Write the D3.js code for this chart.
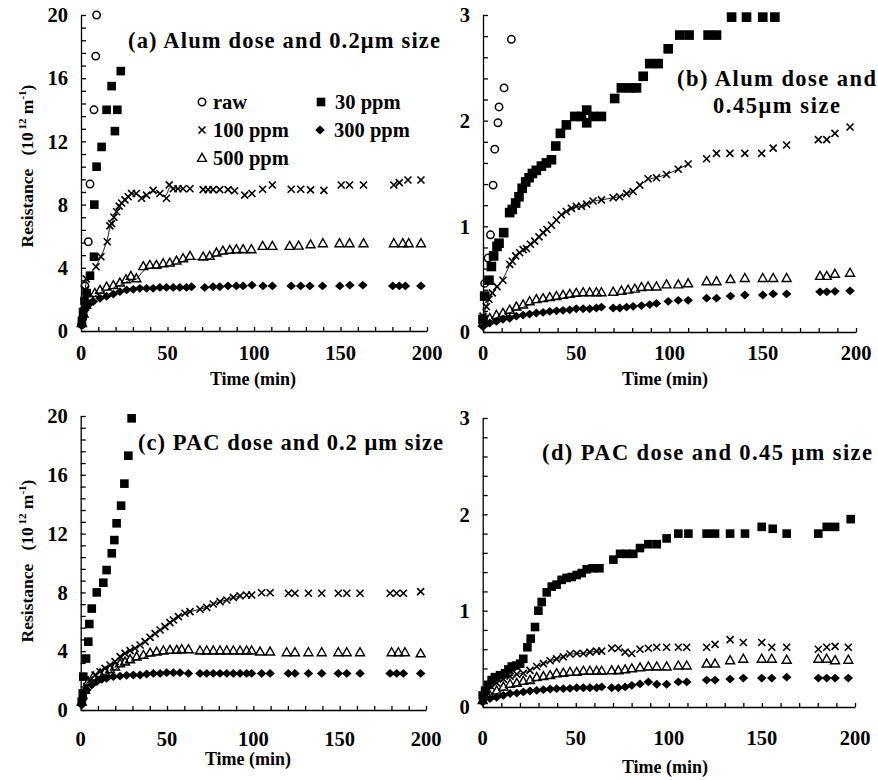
<!DOCTYPE html>
<html>
<head>
<meta charset="utf-8">
<script src="https://cdn.jsdelivr.net/npm/d3@7"></script>
<style>
  html, body { margin: 0; padding: 0; background: #fff; }
  svg { display: block; }
  text { font-family: "Liberation Serif", "Times New Roman", serif; font-weight: bold; fill: #000; }
</style>
</head>
<body>
<svg id="chart" width="878" height="780"></svg>
<script>
// ---------------- DATA ([time (min), resistance]) ----------------
const xTicks = [0, 50, 100, 150, 200];
const yTicks02 = [0, 4, 8, 12, 16, 20];
const yTicks045 = [0, 1, 2, 3];
const seriesNames = ["raw", "30 ppm", "100 ppm", "300 ppm", "500 ppm"];

// (a) Alum dose, 0.2 um
const a_raw = [[0.5,0.4],[1,0.8],[1.5,1.3],[2.3,2.85],[4.2,5.65],[5.2,9.3],[7.5,14.0],[8.5,17.4],[9,20.0]];
const a_30 = [[0.5,0.6],[1.2,1.2],[2,1.9],[3.3,2.4],[5.2,3.5],[7.5,4.7],[7.7,8.0],[9,10.4],[11.9,11.65],[14.8,14.0],[17.7,15.5],[19.6,12.65],[21,14.0],[23,16.45]];
const a_100 = [[0.5,0.5],[1.5,1.2],[2.3,2.6],[3,3.3],[8.7,4.07],[11.5,4.7],[15.2,5.65],[16.7,6.65],[17.7,6.8],[19,7.2],[20.6,7.55],[22.1,7.9],[23.5,8.1],[25.4,8.3],[27.3,8.5],[29.2,8.7],[32,8.7],[35,8.4],[37.9,8.6],[41.7,8.9],[45.6,8.7],[49.4,8.4],[51,9.25],[53.3,9.0],[56,9.0],[59,9.0],[63,9.0],[70.6,8.95],[73.5,8.95],[76.3,8.95],[80.2,8.95],[85,8.95],[88.8,8.88],[94.6,8.6],[98.8,8.7],[105,8.97],[110.6,9.24],[121.5,8.97],[127,8.97],[132.7,8.93],[140.4,8.9],[150.4,9.24],[155.2,9.24],[163.3,9.24],[180.8,9.24],[184,9.39],[189,9.56],[196.5,9.56]];
const a_300 = [[0.3,0.4],[1.3,0.9],[2.3,1.33],[4.2,1.65],[7.1,1.86],[11,2.07],[14.8,2.2],[18.7,2.34],[22.5,2.49],[26.4,2.6],[30.2,2.64],[34,2.7],[37.9,2.7],[41.7,2.7],[45.6,2.76],[49.4,2.76],[53.3,2.76],[57.1,2.76],[61,2.76],[63.9,2.8],[71.5,2.76],[76.3,2.8],[80.2,2.8],[85,2.85],[89.8,2.85],[93.7,2.85],[98.8,2.9],[105.2,2.85],[110.6,2.85],[121.5,2.85],[127,2.85],[132.3,2.85],[139.6,2.85],[149.6,2.85],[155.4,2.9],[162.9,2.9],[180.2,2.85],[184,2.85],[187.5,2.85],[196.5,2.85]];
const a_500 = [[0.5,0.5],[1.5,1.1],[3,1.65],[5,2.17],[8,2.4],[11,2.6],[14.8,2.8],[18.7,2.9],[22.5,3.06],[26,3.27],[28.8,3.48],[32,3.33],[36,4.1],[39.8,4.18],[43.6,4.18],[47.5,4.28],[51.3,4.32],[55.2,4.45],[59,4.6],[63,4.75],[70.6,4.7],[74.4,4.75],[78.3,4.96],[82,5.08],[86,5.13],[89.8,5.17],[93.7,5.17],[98.5,5.17],[105,5.38],[110.6,5.38],[120.6,5.38],[125.8,5.4],[132.7,5.48],[139.8,5.55],[149.4,5.55],[155.2,5.55],[163.3,5.55],[180.8,5.55],[186,5.55],[189.4,5.55],[196.5,5.55]];

// (b) Alum dose, 0.45 um
const b_raw = [[0.9,0.46],[2.7,0.70],[4,0.92],[5.4,1.39],[6.3,1.73],[8,1.98],[8.6,2.13],[11.3,2.31],[15.2,2.77]];
const b_30 = [[0,0.12],[0.9,0.34],[3.2,0.49],[4.5,0.62],[5.7,0.72],[7.5,0.81],[8.6,0.84],[11.1,0.94],[14.3,1.13],[15.7,1.16],[17.5,1.22],[19.3,1.28],[21,1.36],[22.9,1.42],[24.7,1.46],[26.5,1.5],[28.6,1.53],[31.3,1.57],[34,1.6],[36.7,1.63],[39,1.76],[41.5,1.88],[44.7,1.96],[49.2,2.04],[52.8,2.04],[55.6,2.1],[55.6,1.98],[59,2.04],[63.5,2.04],[70.6,2.21],[74.2,2.31],[78.7,2.31],[82.3,2.31],[85.9,2.42],[89.4,2.54],[93.9,2.54],[99.3,2.68],[105.5,2.81],[110.5,2.81],[120.7,2.81],[125.2,2.81],[133.3,2.98],[141.3,2.98],[150,2.98],[156.5,2.98]];
const b_100 = [[0,0.15],[1.8,0.24],[3.2,0.31],[5,0.37],[7.5,0.43],[10.7,0.49],[14.3,0.64],[15.7,0.67],[17.5,0.72],[19.7,0.75],[21.5,0.78],[23.3,0.79],[25.4,0.83],[27.7,0.86],[30,0.9],[32.2,0.94],[34.3,0.97],[36.7,1.01],[39.4,1.06],[42,1.11],[44.7,1.14],[47.4,1.17],[50,1.19],[52.8,1.19],[55.6,1.21],[59,1.24],[63.5,1.25],[69.8,1.27],[73.3,1.28],[77,1.31],[80.5,1.33],[84.1,1.39],[88.5,1.45],[93,1.46],[98.4,1.49],[104.7,1.54],[110,1.59],[119.9,1.64],[125.2,1.69],[132.4,1.69],[140.4,1.69],[149.4,1.69],[155.6,1.74],[162.8,1.77],[179.8,1.82],[184.3,1.82],[188.7,1.88],[196.8,1.94]];
const b_300 = [[0,0.05],[3.6,0.085],[7.2,0.10],[10.7,0.12],[14.3,0.13],[17.9,0.15],[21.5,0.16],[25,0.17],[28.6,0.18],[32.2,0.185],[35.8,0.195],[39.4,0.2],[42.9,0.205],[46.5,0.21],[50,0.22],[53.7,0.22],[57.2,0.22],[60.8,0.227],[63.5,0.236],[69.8,0.227],[73.3,0.227],[77,0.236],[80.5,0.243],[85,0.25],[89.4,0.26],[93,0.27],[99.3,0.29],[104.7,0.3],[110,0.3],[119.9,0.32],[125.2,0.32],[132.7,0.34],[140.4,0.35],[150,0.35],[155.6,0.36],[162.8,0.36],[180.7,0.38],[184.3,0.38],[188.7,0.385],[196.8,0.39]];
const b_500 = [[0,0.085],[3.6,0.13],[7.2,0.16],[10.7,0.18],[14.3,0.21],[17.9,0.24],[21.5,0.26],[25,0.29],[28.6,0.31],[32.2,0.32],[35.8,0.33],[39.4,0.34],[42.9,0.35],[46.5,0.36],[50,0.37],[53.7,0.375],[57.2,0.375],[60.8,0.375],[63.5,0.375],[69.8,0.38],[74.2,0.39],[77.8,0.40],[81.4,0.41],[85,0.425],[88.5,0.43],[93,0.43],[98.4,0.45],[104.7,0.45],[110,0.46],[119.9,0.48],[125.2,0.48],[132.7,0.5],[140.4,0.51],[150,0.51],[155.6,0.51],[162.8,0.51],[180.7,0.53],[184.3,0.53],[188.7,0.55],[196.8,0.56]];

// (c) PAC dose, 0.2 um
const c_30 = [[0.6,0.57],[1.2,1.13],[1.5,2.27],[3.1,3.5],[4.4,4.65],[5,5.85],[6.4,6.9],[9.3,8.0],[13.1,8.66],[15,9.52],[18,10.66],[19.5,11.56],[20.8,12.7],[23.4,13.9],[25.3,15.4],[27.6,17.3],[29.5,19.84]];
const c_100 = [[1.5,0.9],[3.5,1.6],[5.4,2.04],[8.3,2.38],[11.2,2.6],[14.1,2.83],[17,3.06],[19.9,3.29],[22.8,3.63],[25.7,3.85],[28.6,4.04],[31.5,4.2],[34.4,4.42],[37.3,4.65],[40.2,4.94],[43.1,5.2],[46,5.44],[48.8,5.67],[51.7,5.94],[53.7,6.12],[56.6,6.35],[60.4,6.58],[63.3,6.69],[69.1,6.85],[73,6.98],[76.8,7.21],[80.7,7.37],[84.6,7.48],[88.4,7.66],[92.3,7.76],[96.1,7.82],[99,7.82],[104.8,7.98],[109.7,7.98],[120.3,7.94],[124.1,7.94],[131.9,7.94],[139.6,7.94],[149.2,7.94],[154.1,7.94],[161.8,7.94],[179.2,7.94],[183,7.94],[186.9,7.94],[196.9,8.05]];
const c_300 = [[0.6,0.34],[1.5,0.8],[3.5,1.36],[6.4,1.7],[9.3,1.93],[12.2,2.09],[15,2.15],[18.9,2.27],[22.8,2.31],[26.6,2.36],[30.5,2.38],[34.4,2.38],[38.2,2.45],[42.1,2.49],[46,2.49],[49.8,2.54],[53.7,2.54],[57.5,2.54],[62.4,2.49],[69.1,2.49],[73,2.49],[76.8,2.49],[80.7,2.49],[84.6,2.49],[88.4,2.49],[92.3,2.49],[96.1,2.49],[99,2.49],[104.8,2.49],[109.7,2.49],[120.3,2.49],[124.1,2.49],[131.9,2.49],[139.6,2.49],[149.2,2.49],[154.1,2.49],[161.8,2.49],[179.2,2.49],[183,2.49],[186.9,2.49],[196.9,2.49]];
const c_500 = [[0.6,0.57],[2.5,1.36],[4.4,1.93],[7.3,2.27],[11.2,2.49],[14.1,2.6],[17,2.77],[19.9,2.95],[22.8,3.17],[25.7,3.29],[28.6,3.45],[32.4,3.63],[36.3,3.74],[40.2,3.9],[44,3.97],[47.9,4.04],[51.7,4.08],[55.6,4.08],[58.5,4.13],[62.4,4.13],[69.1,4.04],[73,4.04],[76.8,4.04],[80.7,4.04],[84.6,4.04],[88.4,4.04],[92.3,4.04],[96.1,4.04],[99,4.04],[103.9,3.97],[109.7,3.97],[119.3,3.92],[124.1,3.92],[131.9,3.92],[139.6,3.92],[149.2,3.92],[154.1,3.92],[161.8,3.92],[180.1,3.92],[184,3.92],[187.8,3.92],[196.9,3.85]];

// (d) PAC dose, 0.45 um
const d_30 = [[0,0.12],[1.3,0.17],[3,0.23],[4.8,0.28],[6.6,0.31],[9.3,0.33],[12,0.35],[13.8,0.39],[15.6,0.42],[17.9,0.43],[20.1,0.45],[21.8,0.5],[24,0.62],[25.8,0.71],[28.1,0.83],[29.9,1.0],[31.7,1.09],[34.4,1.19],[37.1,1.25],[39.7,1.27],[42.4,1.32],[45.1,1.34],[47.8,1.35],[50.5,1.37],[53.2,1.39],[55.9,1.43],[59.1,1.44],[62.7,1.44],[70.2,1.53],[73.8,1.59],[77.4,1.59],[80.9,1.59],[84.5,1.65],[89,1.69],[93.5,1.69],[98.8,1.75],[105.1,1.8],[110.5,1.8],[120.3,1.8],[124.8,1.8],[132.9,1.8],[140.9,1.8],[149.9,1.87],[155.8,1.85],[163.3,1.8],[180.3,1.8],[184.8,1.87],[189.3,1.87],[197.7,1.95]];
const d_100 = [[0,0.09],[2.1,0.16],[4.8,0.21],[7.5,0.25],[11.1,0.29],[14.7,0.32],[18.3,0.34],[21.8,0.35],[25.4,0.38],[29,0.42],[32.6,0.45],[36.2,0.48],[39.7,0.5],[43.3,0.52],[46.9,0.55],[50.5,0.555],[54.1,0.555],[57.6,0.57],[61.2,0.58],[63.9,0.58],[69.3,0.61],[72.9,0.61],[76.5,0.57],[80.1,0.555],[84.5,0.6],[89,0.61],[93.5,0.62],[98.8,0.62],[105.1,0.62],[109.6,0.62],[120.3,0.62],[124.8,0.65],[132.9,0.7],[140,0.67],[149.9,0.67],[155.3,0.62],[163.3,0.62],[180.3,0.6],[184.8,0.62],[189.3,0.63],[196.4,0.62]];
const d_300 = [[0,0.05],[3.9,0.087],[7.5,0.1],[11.1,0.12],[14.7,0.14],[18.3,0.145],[21.8,0.156],[25.4,0.166],[29,0.173],[32.6,0.18],[36.2,0.187],[39.7,0.19],[43.3,0.19],[46.9,0.194],[50.5,0.2],[54.1,0.2],[57.6,0.2],[61.2,0.2],[63.9,0.208],[69.3,0.2],[72.9,0.2],[76.5,0.208],[80.1,0.225],[84.5,0.24],[89,0.26],[93.5,0.236],[98.8,0.236],[105.1,0.26],[109.6,0.26],[120.3,0.28],[124.8,0.28],[132.9,0.29],[140,0.3],[149.9,0.3],[155.3,0.3],[163.3,0.31],[180.3,0.3],[184.8,0.3],[189.3,0.3],[196.4,0.3]];
const d_500 = [[0,0.07],[3.9,0.12],[7.5,0.17],[11.1,0.21],[14.7,0.24],[18.3,0.25],[21.8,0.27],[25.4,0.28],[29,0.31],[32.6,0.32],[36.2,0.33],[39.7,0.35],[43.3,0.355],[46.9,0.364],[50.5,0.364],[54.1,0.375],[57.6,0.375],[61.2,0.375],[63.9,0.375],[69.3,0.38],[72.9,0.38],[76.5,0.39],[80.1,0.4],[84.5,0.41],[89,0.42],[93.5,0.42],[98.8,0.42],[105.1,0.43],[109.6,0.43],[120.3,0.45],[124.8,0.45],[132.9,0.485],[140,0.5],[149.9,0.5],[155.3,0.5],[163.3,0.49],[180.3,0.5],[184.8,0.5],[189.3,0.485],[196.4,0.49]];

// time (min) up to which the thin fitted trace runs under the 100 / 500 ppm points
const fitEnd = { a: [60, 100], b: [110, 65], c: [96, 100], d: [65, 100] };

// ---------------- DRAWING ----------------
const svg = d3.select("#chart");
svg.append("rect").attr("width", 878).attr("height", 780).attr("fill", "#fff");

function makeMarkers(k) {
  return {
    raw:  g => g.append("circle").attr("r", 3.7).attr("fill", "none").attr("stroke", "#000").attr("stroke-width", 1.5),
    sq:   g => g.append("rect").attr("x", -4.3 * k).attr("y", -4.3 * k).attr("width", 8.6 * k).attr("height", 8.6 * k).attr("fill", "#000"),
    x:    g => g.append("path").attr("d", "M-3.5,-3.5L3.5,3.5M-3.5,3.5L3.5,-3.5").attr("stroke", "#000").attr("stroke-width", 1.6).attr("fill", "none"),
    dia:  g => g.append("path").attr("d", "M0,-4.4L4.8,0L0,4.4L-4.8,0Z").attr("fill", "#000"),
    tri:  g => g.append("path").attr("d", "M0,-4.6L4.5,3.4L-4.5,3.4Z").attr("fill", "none").attr("stroke", "#000").attr("stroke-width", 1.4)
  };
}
const markers = makeMarkers(1);

function panel(cfg) {
  const mk = makeMarkers(cfg.sqScale || 1);
  const x = d3.scaleLinear().domain([0, 200]).range([cfg.x0, cfg.x1]);
  const y = d3.scaleLinear().domain([0, cfg.ymax]).range([cfg.y0, cfg.y1]);
  const g = svg.append("g");

  const xMinor = d3.range(0, 201, 10);
  g.append("g").attr("transform", `translate(0,${cfg.y0})`)
    .call(d3.axisBottom(x).tickValues(xMinor).tickSizeInner(-4).tickSizeOuter(0).tickFormat(""))
    .call(s => s.selectAll("line,path").attr("stroke", "#000").attr("stroke-width", 1.3));
  g.selectAll(".xlab").data(xTicks).join("text")
    .attr("x", d => x(d)).attr("y", cfg.xLabY)
    .attr("text-anchor", "middle").attr("font-size", 20.5).text(d => d);

  const yMinor = d3.range(0, cfg.yMinorN + 1).map(i => i * cfg.ymax / cfg.yMinorN);
  g.append("g").attr("transform", `translate(${cfg.x0},0)`)
    .call(d3.axisLeft(y).tickValues(yMinor).tickSizeInner(-5).tickSizeOuter(0).tickFormat(""))
    .call(s => s.selectAll("line,path").attr("stroke", "#000").attr("stroke-width", 1.3));
  g.selectAll(".ylab").data(cfg.yTicks).join("text")
    .attr("x", cfg.x0 - 13).attr("y", d => y(d)).attr("dy", "0.35em")
    .attr("text-anchor", "end").attr("font-size", 20.5).text(d => d);

  // thin fitted traces
  const line = d3.line().x(p => x(p[0])).y(p => y(p[1])).curve(d3.curveBasis);
  cfg.fits.forEach(f => {
    g.append("path").datum(f.data.filter(p => p[0] <= f.end))
      .attr("d", line).attr("fill", "none").attr("stroke", "#000").attr("stroke-width", 0.9)
      .attr("transform", `translate(0,${f.dy})`);
  });

  cfg.series.forEach(s => {
    const sg = g.append("g");
    s.data.forEach(p => {
      const m = sg.append("g").attr("transform", `translate(${x(p[0])},${y(p[1])})`);
      mk[s.m](m);
    });
  });

  g.append("text").attr("x", cfg.xTitleX).attr("y", cfg.xTitleY)
    .attr("text-anchor", "middle").attr("font-size", 18).text("Time (min)");
}

function yTitle(cx, cy) {
  const t = svg.append("text")
    .attr("transform", `translate(${cx},${cy}) rotate(-90)`)
    .attr("text-anchor", "middle").attr("font-size", 17.5);
  t.append("tspan").text("Resistance\u00a0\u00a0\u00a0(10");
  t.append("tspan").attr("dy", -7).attr("font-size", 11).text("\u00a012");
  t.append("tspan").attr("dy", 7).text("\u00a0m");
  t.append("tspan").attr("dy", -7).attr("font-size", 11).text("-1");
  t.append("tspan").attr("dy", 7).text(")");
}

function title(txt, x, y, w, fs) {
  svg.append("text").attr("x", x).attr("y", y).attr("font-size", fs)
    .attr("textLength", w).attr("lengthAdjust", "spacing").text(txt);
}

panel({ x0: 81, x1: 427, y0: 331, y1: 15, ymax: 20, yMinorN: 25, yTicks: yTicks02, xLabY: 360, xTitleX: 253, xTitleY: 385,
  fits: [ {data: a_100, end: fitEnd.a[0], dy: 0}, {data: a_500, end: fitEnd.a[1], dy: 3} ],
  series: [ {m:"raw", data:a_raw}, {m:"sq", data:a_30}, {m:"x", data:a_100}, {m:"tri", data:a_500}, {m:"dia", data:a_300} ] });
panel({ x0: 483, x1: 856, y0: 332, y1: 15, ymax: 3, yMinorN: 15, yTicks: yTicks045, xLabY: 360, xTitleX: 665, xTitleY: 385, sqScale: 1.12,
  fits: [ {data: b_100, end: fitEnd.b[0], dy: 0}, {data: b_500, end: fitEnd.b[1], dy: 3} ],
  series: [ {m:"raw", data:b_raw}, {m:"sq", data:b_30}, {m:"x", data:b_100}, {m:"tri", data:b_500}, {m:"dia", data:b_300} ] });
panel({ x0: 80.7, x1: 426, y0: 710, y1: 416, ymax: 20, yMinorN: 25, yTicks: yTicks02, xLabY: 746, xTitleX: 248, xTitleY: 765,
  fits: [ {data: c_100, end: fitEnd.c[0], dy: 0}, {data: c_500, end: fitEnd.c[1], dy: 3} ],
  series: [ {m:"sq", data:c_30}, {m:"x", data:c_100}, {m:"tri", data:c_500}, {m:"dia", data:c_300} ] });
panel({ x0: 482.7, x1: 855, y0: 707, y1: 418, ymax: 3, yMinorN: 15, yTicks: yTicks045, xLabY: 745, xTitleX: 665, xTitleY: 773,
  fits: [ {data: d_100, end: fitEnd.d[0], dy: 0}, {data: d_500, end: fitEnd.d[1], dy: 3} ],
  series: [ {m:"sq", data:d_30}, {m:"x", data:d_100}, {m:"tri", data:d_500}, {m:"dia", data:d_300} ] });

yTitle(33, 166);
yTitle(33, 561);

title("(a) Alum dose and 0.2\u03bcm size", 128, 48, 312, 22.5);
title("(b) Alum dose and", 677, 86, 199, 22.5);
title("0.45\u03bcm size", 713, 113, 127, 22.5);
title("(c) PAC dose and 0.2 \u03bcm size", 138, 450, 305, 22.5);
title("(d) PAC dose and 0.45 \u03bcm size", 542, 460, 330, 22.5);

const legend = [
  { name: seriesNames[0], m: "raw", x: 202, y: 102 },
  { name: seriesNames[1], m: "sq",  x: 321, y: 102 },
  { name: seriesNames[2], m: "x",   x: 202, y: 130 },
  { name: seriesNames[3], m: "dia", x: 320, y: 130 },
  { name: seriesNames[4], m: "tri", x: 202, y: 158 }
];
legend.forEach(l => {
  const m = svg.append("g").attr("transform", `translate(${l.x},${l.y})`);
  markers[l.m](m);
  svg.append("text").attr("x", l.x + (l.m === "sq" || l.m === "dia" ? 14 : 11)).attr("y", l.y + 7)
    .attr("font-size", 20.5).text(l.name);
});
</script>
</body>
</html>
